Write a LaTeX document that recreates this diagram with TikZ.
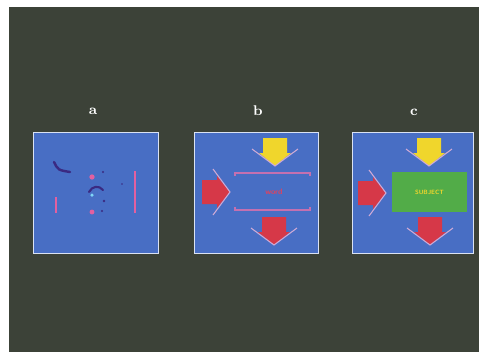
\documentclass[tikz,border=0pt]{standalone}
\usepackage{tikz}
\usetikzlibrary{positioning,calc}
\definecolor{slidebg}{RGB}{60,66,56}
\definecolor{panelblue}{RGB}{72,110,196}
\definecolor{cuered}{RGB}{214,56,72}
\definecolor{cueyellow}{RGB}{240,214,44}
\definecolor{subjgreen}{RGB}{82,172,72}
\definecolor{bracketpink}{RGB}{196,112,176}
\definecolor{guidepink}{RGB}{206,170,214}
\definecolor{markdark}{RGB}{58,42,130}
\definecolor{markpink}{RGB}{226,96,160}

\begin{document}
\begin{tikzpicture}[
    x=0.02cm, y=-0.02cm,
    panel/.style={rectangle, draw=white!80!panelblue, fill=panelblue, line width=0.5pt, inner sep=0pt},
    lbl/.style={text=white, font=\footnotesize\bfseries, inner sep=0pt},
    guide/.style={draw=guidepink, line width=0.6pt},
    bracket/.style={draw=bracketpink, line width=0.6pt},
    pics/cue/.style={code={
        \fill[pic actions] (-12,0) -- (12,0) -- (12,15) -- (16,15) -- (0,28) -- (-16,15) -- (-12,15) -- cycle;
        \draw[guide] (-23,11) -- (0,28) -- (23,11);
    }}
]

% Slide background
\useasboundingbox (0,0) rectangle (479,353);
\fill[slidebg] (9,7) rectangle (479,352);

% Panels
\node[panel, minimum width=2.50cm, minimum height=2.42cm] (pa) at (95.5,192.5) {};
\node[panel, minimum width=2.48cm, minimum height=2.42cm] (pb) at (256,192.5) {};
\node[panel, minimum width=2.42cm, minimum height=2.42cm] (pc) at (412.5,192.5) {};

% Labels
\node[lbl] (la) at (93,111) {a};
\node[lbl] (lb) at (258,111) {b};
\node[lbl] (lc) at (414,112) {c};

% Panel a: scattered marks
\draw[markdark, line width=1.4pt, line cap=round] (54,162) .. controls (58,170) .. (70,172);
\draw[markdark, line width=1.2pt, line cap=round] (89,192) .. controls (92,186) and (99,185) .. (103,190);
\fill[markpink] (92,177) circle[radius=1.5pt];
\fill[markpink] (92,212) circle[radius=1.4pt];
\fill[cyan!50!white] (92,195) circle[radius=1pt];
\fill[markdark] (103,172) circle[radius=0.6pt];
\fill[markdark] (104,201) circle[radius=0.8pt];
\fill[markdark] (102,211) circle[radius=0.6pt];
\fill[markdark] (122,184) circle[radius=0.5pt];
\draw[markpink, line width=0.7pt] (56,197) -- (56,213);
\draw[markpink, line width=0.7pt] (135,171) -- (135,213);

% Panel b: cues round a word
\pic[fill=cueyellow] at (275,138) {cue};
\pic[fill=cuered, rotate=90] at (202,192) {cue};
\pic[fill=cuered] at (274,217) {cue};
\node[text=cuered!70!markpink, font=\fontsize{4.5}{4.5}\selectfont\sffamily\bfseries, inner sep=0pt] (word) at (274,192) {word};
\draw[bracket] (235,176) -- (235,173) -- (310,173) -- (310,176);
\draw[bracket] (235,207) -- (235,210) -- (310,210) -- (310,207);

% Panel c: cues round the subject
\pic[fill=cueyellow] at (429,138) {cue};
\pic[fill=cuered, rotate=90] at (358,193) {cue};
\pic[fill=cuered] at (430,217) {cue};
\node[fill=subjgreen, minimum width=1.5cm, minimum height=0.8cm, inner sep=0pt] (subj) at (429.5,192) {};
\node[text=cueyellow, font=\fontsize{3.5}{3.5}\selectfont\sffamily\bfseries, inner sep=0pt] (subjtext) at (subj.center) {SUBJECT};

\end{tikzpicture}
\end{document}
